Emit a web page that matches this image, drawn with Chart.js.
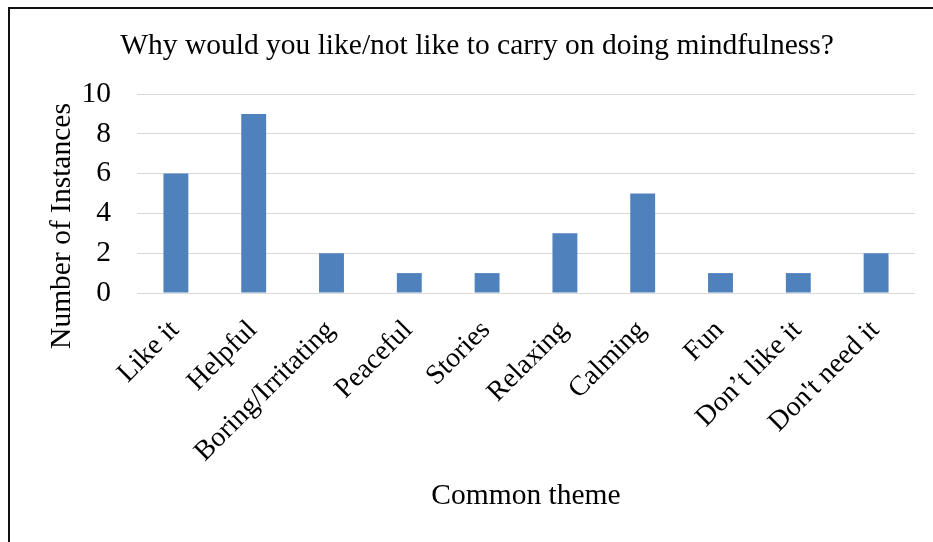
<!DOCTYPE html>
<html>
<head>
<meta charset="utf-8">
<script src="https://cdn.jsdelivr.net/npm/chart.js@4.4.1/dist/chart.umd.min.js"></script>
<style>
  html, body { margin: 0; padding: 0; background: #fff; }
  #wrap { position: relative; width: 933px; height: 542px; overflow: hidden; }
  #frame { position: absolute; left: 8px; top: 7px; width: 1000px; height: 1000px;
           border-top: 2px solid #111; border-left: 2px solid #111; }
  #chart { position: absolute; left: 0; top: 0; }
</style>
</head>
<body>
<div id="wrap">
  <div id="frame"></div>
  <canvas id="chart" width="933" height="542"></canvas>
</div>
<script>
// Data
const themes = ['Like it', 'Helpful', 'Boring/Irritating', 'Peaceful', 'Stories',
                'Relaxing', 'Calming', 'Fun', 'Don\u2019t like it', "Don't need it"];
const instances = [6, 9, 2, 1, 1, 3, 5, 1, 1, 2];
const yTicks = [0, 2, 4, 6, 8, 10];

const chartTitle = 'Why would you like/not like to carry on doing mindfulness?';
const yTitle = 'Number of Instances';
const xTitle = 'Common theme';

const FONT = "'Liberation Serif', 'Times New Roman', serif";
const SIZE = 29.5;

// y axis title sits lower than the plot centre in the original, so draw it by hand
const yTitlePlugin = {
    id: 'yTitle',
    afterDraw(chart) {
        const ctx = chart.ctx;
        ctx.save();
        ctx.font = `${SIZE}px ${FONT}`;
        ctx.fillStyle = '#000';
        ctx.textAlign = 'center';
        ctx.textBaseline = 'middle';
        ctx.translate(62, 226);
        ctx.rotate(-Math.PI / 2);
        ctx.fillText(yTitle, 0, 0);
        ctx.restore();
    }
};

new Chart(document.getElementById('chart'), {
    type: 'bar',
    data: {
        labels: themes,
        datasets: [{
            data: instances,
            backgroundColor: '#4f81bd',
            categoryPercentage: 1,
            barPercentage: 0.32
        }]
    },
    options: {
        responsive: false,
        animation: false,
        layout: { padding: { left: 39, right: 18, top: 0, bottom: 0 } },
        plugins: {
            legend: { display: false },
            tooltip: { enabled: false },
            title: {
                display: true,
                text: chartTitle,
                color: '#000',
                font: { family: FONT, size: SIZE, weight: 'normal' },
                padding: { top: 29, bottom: 29.6 }
            }
        },
        scales: {
            y: {
                min: 0,
                max: 10,
                afterBuildTicks: s => { s.ticks = yTicks.map(v => ({ value: v })); },
                afterFit: s => { s.width = 98; },
                grid: { color: '#d9d9d9', lineWidth: 1, drawTicks: false },
                border: { display: false },
                ticks: { color: '#000', padding: 26, font: { family: FONT, size: SIZE } }
            },
            x: {
                afterFit: s => { s.height = 249; },
                grid: { display: false, drawTicks: false },
                border: { display: false },
                ticks: {
                    color: '#000',
                    minRotation: 45,
                    maxRotation: 45,
                    autoSkip: false,
                    padding: 21,
                    labelOffset: -1,
                    font: { family: FONT, size: 28 }
                },
                title: {
                    display: true,
                    text: xTitle,
                    color: '#000',
                    font: { family: FONT, size: SIZE },
                    padding: { top: 0, bottom: 28.5 }
                }
            }
        }
    },
    plugins: [yTitlePlugin]
});
</script>
</body>
</html>
